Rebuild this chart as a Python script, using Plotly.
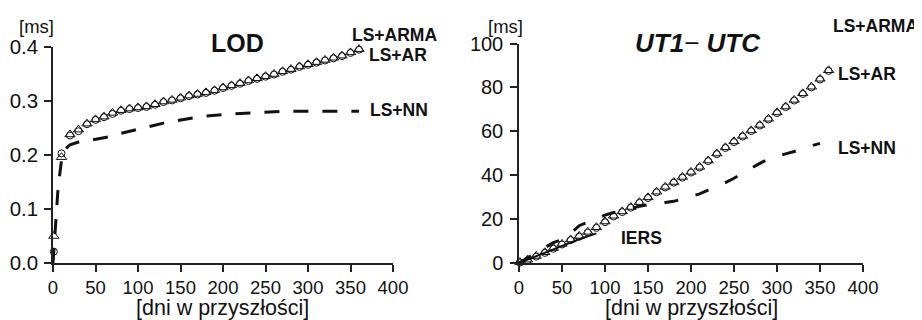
import plotly.graph_objects as go

# ---------------- data ----------------
lod_days = [1, 10, 20, 30, 40, 50, 60, 70, 80, 90, 100, 110, 120, 130, 140, 150, 160, 170, 180,
            190, 200, 210, 220, 230, 240, 250, 260, 270, 280, 290, 300, 310, 320, 330, 340, 350, 360]
lod_arma = [0.050, 0.196, 0.238, 0.247, 0.258, 0.266, 0.271, 0.278, 0.283, 0.286, 0.288, 0.290,
            0.294, 0.299, 0.302, 0.306, 0.310, 0.313, 0.316, 0.320, 0.325, 0.329, 0.333, 0.338,
            0.342, 0.346, 0.350, 0.355, 0.359, 0.364, 0.368, 0.372, 0.376, 0.380, 0.384, 0.390, 0.396]
lod_ar = [0.021, 0.203, 0.236, 0.244, 0.257, 0.265, 0.270, 0.276, 0.282, 0.285, 0.287, 0.289,
          0.293, 0.298, 0.301, 0.305, 0.309, 0.312, 0.315, 0.319, 0.324, 0.328, 0.332, 0.337,
          0.341, 0.345, 0.349, 0.354, 0.358, 0.363, 0.367, 0.371, 0.375, 0.379, 0.383, 0.389, 0.395]
lod_nn_days = [0, 3, 6, 10, 15, 20, 30, 40, 50, 60, 70, 80, 90, 100, 110, 120, 130, 140, 150, 160,
               170, 180, 190, 200, 210, 220, 230, 240, 250, 260, 270, 280, 290, 300, 310, 320,
               330, 340, 350, 360]
lod_nn = [0.000, 0.070, 0.140, 0.190, 0.212, 0.219, 0.224, 0.226, 0.229, 0.232, 0.235, 0.240,
          0.244, 0.248, 0.252, 0.256, 0.259, 0.262, 0.265, 0.268, 0.270, 0.272, 0.274, 0.275,
          0.276, 0.277, 0.278, 0.279, 0.280, 0.281, 0.281, 0.281, 0.281, 0.281, 0.281, 0.281,
          0.281, 0.281, 0.281, 0.281]

ut_days = [1, 10, 20, 30, 40, 50, 60, 70, 80, 90, 100, 110, 120, 130, 140, 150, 160, 170, 180,
           190, 200, 210, 220, 230, 240, 250, 260, 270, 280, 290, 300, 310, 320, 330, 340, 350, 360]
ut_arma = [0.4, 1.5, 3.2, 4.9, 6.8, 8.7, 10.7, 12.3, 14.2, 16.3, 18.9, 21.5, 23.5, 25.5, 27.7,
           29.9, 32.5, 34.7, 36.9, 39.2, 41.5, 43.8, 46.7, 49.9, 52.7, 55.4, 57.9, 60.4, 62.9,
           65.7, 68.6, 71.3, 74.3, 77.3, 80.3, 83.9, 87.8]
ut_ar = [0.2, 1.2, 2.9, 4.6, 6.5, 8.4, 10.4, 12.0, 13.9, 16.0, 18.6, 21.2, 23.2, 25.2, 27.4,
         29.6, 32.2, 34.4, 36.6, 38.9, 41.2, 43.5, 46.4, 49.6, 52.4, 55.1, 57.6, 60.1, 62.6,
         65.4, 68.3, 71.0, 74.0, 77.0, 80.0, 83.6, 87.5]
ut_nn_days = [0, 10, 20, 30, 40, 50, 60, 70, 80, 90, 100, 110, 120, 130, 140, 150, 160, 170, 180,
              190, 200, 210, 220, 230, 240, 250, 260, 270, 280, 290, 300, 310, 320, 330, 340, 350]
ut_nn = [0.0, 2.2, 4.6, 7.0, 9.3, 10.6, 13.5, 17.0, 18.6, 20.2, 21.8, 23.0, 23.8, 24.8, 25.8,
         26.6, 27.2, 27.6, 28.1, 29.2, 30.3, 31.5, 33.2, 34.8, 36.6, 38.6, 41.0, 43.2, 45.4,
         47.4, 48.7, 49.7, 50.8, 52.2, 53.4, 54.5]
iers_days = [0, 10, 20, 30, 40, 50, 60, 70, 80, 90]
iers_vals = [0.0, 1.6, 3.2, 4.8, 6.4, 7.9, 9.3, 10.8, 12.2, 13.5]

x_ticks = [0, 50, 100, 150, 200, 250, 300, 350, 400]
lod_ticks = [0.0, 0.1, 0.2, 0.3, 0.4]
ut_ticks = [0, 20, 40, 60, 80, 100]

# ---------------- figure ----------------
W, H = 922, 320
OFF = 8  # page body margin offset of the plot div
FONT = "Liberation Sans, Arial, sans-serif"
INK = "#111111"

fig = go.Figure()

tri = dict(symbol="triangle-up-open", size=9, color=INK, line=dict(width=1, color=INK))
cir = dict(symbol="circle-open", size=7, color=INK, line=dict(width=1, color=INK))

# LOD panel
fig.add_trace(go.Scatter(x=lod_nn_days, y=lod_nn, mode="lines", xaxis="x", yaxis="y",
                         line=dict(color=INK, width=3, dash="15px,14px"), cliponaxis=False))
fig.add_trace(go.Scatter(x=lod_days, y=lod_arma, mode="markers", xaxis="x", yaxis="y",
                         marker=tri, cliponaxis=False))
fig.add_trace(go.Scatter(x=lod_days, y=lod_ar, mode="markers", xaxis="x", yaxis="y",
                         marker=cir, cliponaxis=False))

# UT1-UTC panel
fig.add_trace(go.Scatter(x=ut_nn_days, y=ut_nn, mode="lines", xaxis="x2", yaxis="y2",
                         line=dict(color=INK, width=3, dash="14px,18px"), cliponaxis=False))
fig.add_trace(go.Scatter(x=iers_days, y=iers_vals, mode="lines", xaxis="x2", yaxis="y2",
                         line=dict(color=INK, width=2), cliponaxis=False))
fig.add_trace(go.Scatter(x=ut_days, y=ut_arma, mode="markers", xaxis="x2", yaxis="y2",
                         marker=tri, cliponaxis=False))
fig.add_trace(go.Scatter(x=ut_days, y=ut_ar, mode="markers", xaxis="x2", yaxis="y2",
                         marker=cir, cliponaxis=False))


def px(x):
    return (x - OFF) / W


def py(y):
    return 1 - (y - OFF) / H


def axis_style(size):
    return dict(showgrid=False, zeroline=False, showline=True, linecolor="#222222",
                linewidth=1.5, ticks="outside", ticklen=7, tickwidth=1.5,
                tickcolor="#222222", automargin=False,
                tickfont=dict(family=FONT, size=size, color=INK))


fig.update_layout(
    width=W, height=H,
    margin=dict(l=0, r=0, t=0, b=0, autoexpand=False),
    paper_bgcolor="white", plot_bgcolor="white",
    showlegend=False,
    font=dict(family=FONT, color=INK),
    xaxis=dict(domain=[px(53), px(393)], range=[0, 400], tickvals=x_ticks, anchor="y",
               **axis_style(18.5)),
    yaxis=dict(domain=[py(263), py(47)], range=[0, 0.4], tickvals=lod_ticks, tickformat=".1f",
               anchor="x", ticklabelstandoff=2, **axis_style(20.5)),
    xaxis2=dict(domain=[px(519), px(863)], range=[0, 400], tickvals=x_ticks, anchor="y2",
                **axis_style(18.5)),
    yaxis2=dict(domain=[py(263), py(43.5)], range=[0, 100], tickvals=ut_ticks, anchor="x2",
                ticklabelstandoff=3, **axis_style(20)),
)


def ann(text, x, y, size, xanchor="center"):
    fig.add_annotation(text=text, x=px(x), y=py(y), xref="paper", yref="paper",
                       xanchor=xanchor, yanchor="middle", showarrow=False,
                       font=dict(family=FONT, size=size, color=INK))


ann("[ms]", 36, 26.5, 18.5)
ann("[ms]", 505, 26, 18.5)
ann("<b>LOD</b>", 237, 43, 25)
ann("<b><i>UT1</i></b>− <b><i>UTC</i></b>", 698, 43, 26)
ann("<b>LS+ARMA</b>", 350, 35, 17.5, xanchor="left")
ann("<b>LS+AR</b>", 366.5, 55, 17.5, xanchor="left")
ann("<b>LS+NN</b>", 368, 110, 17.5, xanchor="left")
ann("<b>LS+ARMA</b>", 830.5, 26, 17.5, xanchor="left")
ann("<b>LS+AR</b>", 835.5, 74, 17.5, xanchor="left")
ann("<b>LS+NN</b>", 835.5, 147.5, 17.5, xanchor="left")
ann("<b>IERS</b>", 619, 237.5, 17.5, xanchor="left")
ann("[dni w przyszłości]", 222.5, 307.5, 21.5)
ann("[dni w przyszłości]", 691, 307.5, 21.5)

fig.write_html("out.html")
